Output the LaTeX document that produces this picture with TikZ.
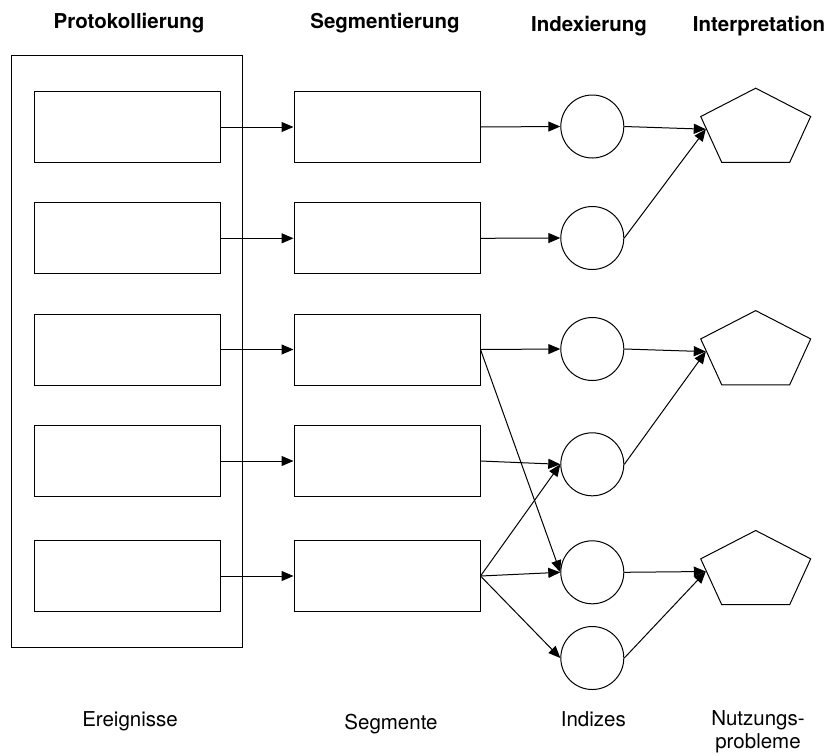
\documentclass[tikz,border=0pt]{standalone}
\usepackage{fontspec}
\setmainfont{TeX Gyre Heros}
\usetikzlibrary{arrows.meta,shapes.geometric}

\begin{document}
\begin{tikzpicture}[x=1pt,y=-1pt,
  line width=1pt,
  evbox/.style={draw, rectangle, minimum width=186pt, minimum height=71pt, inner sep=0pt},
  idx/.style={draw, circle, minimum size=63pt, inner sep=0pt},
  prob/.style={draw, regular polygon, regular polygon sides=5, minimum size=82pt, inner sep=0pt, xscale=1.41},
  flow/.style={-{Triangle[length=12pt,width=10pt]}},
  head/.style={font=\fontsize{20.5}{24}\selectfont\bfseries, anchor=base},
  foot/.style={font=\fontsize{20.5}{23}\selectfont, anchor=base}]

  \useasboundingbox (0,0) rectangle (830,753);

  % column headings
  \node[head] (hProt) at (129,28.3) {Protokollierung};
  \node[head] (hSeg)  at (385,28.3) {Segmentierung};
  \node[head] (hIdx)  at (589,31.7) {Indexierung};
  \node[head] (hInt)  at (759,31.7) {Interpretation};

  % event log frame
  \node[draw, rectangle, minimum width=230.6pt, minimum height=592.7pt, inner sep=0pt] (frame) at (127,351.35) {};

  % events and segments
  \foreach \i/\y in {1/127, 2/238.3, 3/349.5, 4/461, 5/576} {
    \node[evbox] (e\i) at (127,\y) {};
    \node[evbox] (s\i) at (387,\y) {};
    \draw[flow] (e\i.east) -- (s\i.west);
  }

  % indices
  \node[idx] (c1) at (592.3,126.5) {};
  \node[idx] (c2) at (592.3,238) {};
  \node[idx] (c3) at (592.3,349) {};
  \node[idx] (c4) at (592.3,464.3) {};
  \node[idx] (c5) at (592.3,572.3) {};
  \node[idx] (c6) at (592.3,658) {};

  % usage problems
  \node[prob] (p1) at (755.7,129.2) {};
  \node[prob] (p2) at (755.7,351.6) {};
  \node[prob] (p3) at (755.7,571.5) {};

  % segments -> indices
  \draw[flow] (s1.east) -- (c1.west);
  \draw[flow] (s2.east) -- (c2.west);
  \draw[flow] (s3.east) -- (c3.west);
  \draw[flow] (s3.east) -- (c5.west);
  \draw[flow] (s4.east) -- (c4.west);
  \draw[flow] (s5.east) -- (c4.west);
  \draw[flow] (s5.east) -- (c5.west);
  \draw[flow] (s5.east) -- (c6.west);

  % indices -> usage problems
  \draw[flow] (c1.east) -- (p1.west);
  \draw[flow] (c2.east) -- (p1.west);
  \draw[flow] (c3.east) -- (p2.west);
  \draw[flow] (c4.east) -- (p2.west);
  \draw[flow] (c5.east) -- (p3.west);
  \draw[flow] (c6.east) -- (p3.west);

  % column captions
  \node[foot] (fEv)  at (130,726.7) {Ereignisse};
  \node[foot] (fSeg) at (391,729.5) {Segmente};
  \node[foot] (fIdx) at (593.3,726.7) {Indizes};
  \node[foot] (fNu1) at (758,725) {Nutzungs-};
  \node[foot] (fNu2) at (758,748) {probleme};
\end{tikzpicture}
\end{document}
